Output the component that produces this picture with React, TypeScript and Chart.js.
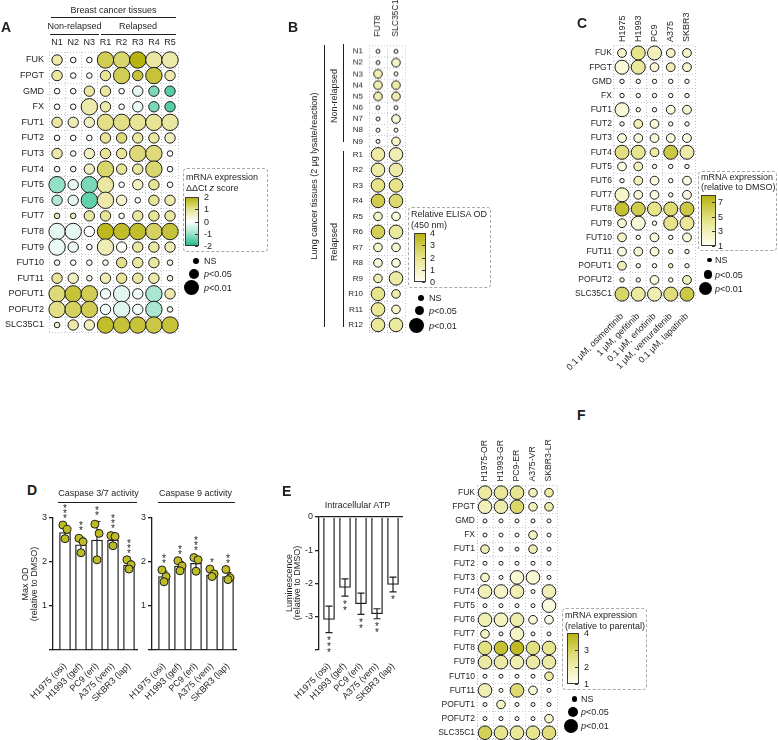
import React, { useEffect, useRef } from 'react';
import { Chart, registerables } from 'chart.js';

Chart.register(...registerables);

const FONT = "'Liberation Sans', Arial, Helvetica, sans-serif";
const INK = '#1e1e1e';
const GRID = '#c3c6d2';
const DOT = 'rgb(190,188,36)';
Chart.defaults.font.family = FONT;
Chart.defaults.color = INK;

// ---------------- Panel A: breast cancer tissues ----------------
const aRows = ['FUK', 'FPGT', 'GMD', 'FX', 'FUT1', 'FUT2', 'FUT3', 'FUT4', 'FUT5', 'FUT6', 'FUT7', 'FUT8', 'FUT9', 'FUT10', 'FUT11', 'POFUT1', 'POFUT2', 'SLC35C1'];
const aCols = ['N1', 'N2', 'N3', 'R1', 'R2', 'R3', 'R4', 'R5'];
const aZ = [
  [0.8, 0.1, 0.1, 1.5, 1.3, 2.0, 0.9, 0.8],
  [0.9, 0.1, 0.1, 1.0, 1.5, 1.7, 1.7, 0.8],
  [0.0, 0.0, 0.9, 0.9, 0.0, -0.3, -1.3, -1.6],
  [0.0, 0.0, 0.8, 0.8, 0.0, -0.2, -1.3, -1.6],
  [0.9, 0.7, 0.6, 1.1, 1.1, 1.0, 1.0, 0.9],
  [0.0, 0.0, 0.0, 1.0, 1.2, 0.9, 0.9, 0.6],
  [0.8, 0.1, 0.6, 1.0, 1.0, 1.2, 1.2, 0.1],
  [0.0, 0.0, 0.6, 1.3, 1.0, 0.9, 1.3, 0.0],
  [-1.1, -0.3, -1.3, 0.9, 0.0, 0.6, 1.0, 0.0],
  [-0.8, -0.3, -1.5, 0.8, 0.5, 0.0, 1.0, 0.8],
  [0.7, 0.6, 0.9, 1.0, 0.2, 0.9, 1.0, 0.9],
  [-0.25, -0.25, 0.0, 1.9, 1.8, 1.8, 1.4, 1.7],
  [-0.2, -0.2, 0.0, 0.7, 0.1, 0.9, 0.9, 0.7],
  [0.1, 0.1, 0.1, 0.2, 1.1, 0.9, 0.9, 0.3],
  [1.0, 0.6, 0.2, 0.7, 1.0, 0.9, 0.8, 0.3],
  [1.2, 1.7, 1.5, -0.15, -0.3, -0.15, -0.9, 0.8],
  [1.1, 1.4, 1.5, -0.15, -0.35, -0.15, -0.9, 0.2],
  [0.5, 0.8, 0.6, 1.8, 1.7, 1.7, 1.6, 1.7],
];
// significance level: 1 = NS, 2 = p<0.05, 3 = p<0.01
const aSig = [
  [2, 1, 1, 3, 3, 3, 3, 3],
  [2, 1, 1, 2, 3, 2, 3, 2],
  [1, 1, 2, 2, 1, 2, 2, 2],
  [1, 1, 3, 2, 1, 2, 2, 2],
  [2, 2, 2, 3, 3, 3, 3, 3],
  [1, 1, 1, 2, 2, 2, 2, 2],
  [2, 1, 2, 2, 2, 3, 3, 1],
  [1, 1, 2, 3, 2, 2, 3, 1],
  [3, 2, 3, 3, 1, 2, 2, 1],
  [2, 2, 3, 3, 2, 1, 2, 2],
  [1, 1, 2, 2, 1, 2, 2, 2],
  [3, 3, 2, 3, 3, 3, 3, 3],
  [3, 2, 1, 3, 2, 2, 2, 2],
  [1, 1, 1, 1, 2, 2, 2, 1],
  [2, 2, 1, 2, 2, 2, 2, 1],
  [3, 3, 3, 2, 3, 2, 3, 2],
  [3, 3, 3, 2, 3, 2, 3, 1],
  [1, 2, 2, 3, 3, 3, 3, 3],
];

// ---------------- Panel B: lung cancer tissues ELISA ----------------
const bCols = ['FUT8', 'SLC35C1'];
const bRowsN = ['N1', 'N2', 'N3', 'N4', 'N5', 'N6', 'N7', 'N8', 'N9'];
const bValN = [[0.2, 0.2], [0.2, 0.8], [1.2, 0.3], [1.3, 1.4], [1.3, 1.3], [0.2, 0.2], [0.2, 0.6], [0.2, 0.3], [0.2, 0.8]];
const bSigN = [[1, 1], [1, 2], [2, 1], [2, 2], [2, 2], [1, 1], [1, 2], [1, 1], [1, 2]];
const bRowsR = ['R1', 'R2', 'R3', 'R4', 'R5', 'R6', 'R7', 'R8', 'R9', 'R10', 'R11', 'R12'];
const bValR = [[1.5, 1.2], [1.5, 1.4], [2.0, 2.0], [3.0, 2.4], [0.8, 0.5], [2.8, 1.6], [0.8, 0.7], [0.4, 0.4], [1.2, 1.5], [2.0, 1.3], [1.7, 0.8], [1.7, 1.6]];
const bSigR = [[3, 3], [3, 3], [3, 3], [3, 3], [2, 2], [3, 3], [2, 2], [2, 2], [2, 3], [3, 2], [3, 2], [3, 3]];

// ---------------- Panel C: cell lines + TKIs ----------------
const cRows = aRows;
const cCols = ['H1975', 'H1993', 'PC9', 'A375', 'SKBR3'];
const cDrugs = ['0.1 μM, osimertinib', '1 μM, gefitinib', '0.1 μM, erlotinib', '1 μM, vemurafenib', '0.1 μM, lapatinib'];
const cVal = [
  [2.3, 4.5, 2.8, 2.5, 2.3],
  [1.8, 4.0, 2.0, 3.0, 2.2],
  [1.1, 1.1, 1.1, 1.1, 1.1],
  [1.1, 1.1, 1.1, 1.1, 1.1],
  [1.8, 1.1, 1.1, 1.6, 2.0],
  [1.1, 3.0, 1.8, 1.1, 1.1],
  [1.5, 1.7, 1.8, 1.5, 1.5],
  [4.8, 4.3, 3.5, 6.5, 3.5],
  [1.4, 2.8, 1.1, 1.1, 1.1],
  [1.1, 2.8, 1.8, 1.1, 1.5],
  [2.3, 2.0, 1.5, 1.1, 1.3],
  [7.0, 6.2, 4.5, 5.2, 6.5],
  [2.0, 1.8, 1.1, 4.5, 4.0],
  [2.5, 1.1, 1.8, 1.1, 1.7],
  [1.5, 2.0, 2.0, 2.5, 1.5],
  [3.0, 1.1, 1.1, 2.5, 1.5],
  [2.0, 1.1, 1.7, 1.1, 3.0],
  [5.5, 3.8, 3.2, 5.0, 6.5],
];
const cSig = [
  [2, 3, 3, 2, 2],
  [3, 3, 2, 2, 2],
  [1, 1, 1, 1, 1],
  [1, 1, 1, 1, 1],
  [3, 1, 1, 2, 2],
  [1, 2, 2, 1, 1],
  [2, 2, 2, 2, 2],
  [3, 3, 2, 3, 3],
  [2, 2, 1, 1, 1],
  [1, 2, 2, 1, 2],
  [3, 2, 2, 1, 2],
  [3, 3, 3, 3, 3],
  [2, 3, 1, 3, 3],
  [2, 1, 2, 1, 2],
  [2, 2, 2, 1, 1],
  [2, 1, 1, 1, 1],
  [1, 1, 2, 1, 2],
  [3, 3, 3, 3, 3],
];

// ---------------- Panel F: resistant lines ----------------
const fRows = aRows;
const fCols = ['H1975-OR', 'H1993-GR', 'PC9-ER', 'A375-VR', 'SKBR3-LR'];
const fVal = [
  [2.1, 2.3, 2.4, 1.8, 2.1],
  [1.8, 2.0, 2.9, 1.8, 2.1],
  [1.05, 1.05, 1.05, 1.05, 1.05],
  [1.05, 1.05, 1.05, 1.7, 1.05],
  [1.9, 1.05, 1.05, 1.9, 1.05],
  [1.05, 1.05, 1.05, 1.05, 1.05],
  [1.6, 1.05, 1.4, 1.4, 1.05],
  [1.8, 1.6, 1.9, 1.05, 1.8],
  [1.05, 1.05, 1.05, 1.05, 1.3],
  [1.9, 1.7, 2.0, 1.3, 1.05],
  [1.6, 1.05, 1.6, 1.05, 1.05],
  [2.6, 3.6, 3.8, 2.6, 2.4],
  [2.1, 2.1, 1.9, 2.1, 2.1],
  [1.05, 1.05, 1.05, 1.05, 2.1],
  [1.9, 1.05, 2.8, 1.4, 1.05],
  [1.05, 1.7, 1.05, 1.05, 1.05],
  [1.05, 1.05, 1.05, 1.05, 1.6],
  [3.1, 2.4, 2.3, 2.4, 2.7],
];
const fSig = [
  [3, 3, 3, 2, 2],
  [3, 3, 3, 2, 2],
  [1, 1, 1, 1, 1],
  [1, 1, 1, 2, 1],
  [2, 1, 1, 2, 1],
  [1, 1, 1, 1, 1],
  [2, 1, 3, 3, 1],
  [3, 3, 3, 1, 3],
  [1, 1, 1, 1, 3],
  [3, 3, 3, 2, 2],
  [2, 1, 3, 1, 1],
  [3, 3, 3, 3, 3],
  [3, 3, 3, 3, 3],
  [1, 1, 1, 1, 2],
  [3, 1, 3, 2, 1],
  [1, 2, 1, 1, 1],
  [1, 1, 1, 1, 2],
  [3, 3, 3, 3, 3],
];

// ---------------- Panel D / E ----------------
const dGroups = ['H1975 (osi)', 'H1993 (gef)', 'PC9 (erl)', 'A375 (vem)', 'SKBR3 (lap)'];
const casp37Mean = [2.67, 2.39, 2.50, 2.50, 1.93];
const casp37Sd = [0.14, 0.17, 0.42, 0.12, 0.09];
const casp37Dots = [[2.84, 2.74, 2.53], [2.54, 2.46, 2.21], [2.86, 2.65, 2.05], [2.60, 2.58, 2.37], [2.05, 1.94, 1.84]];
const casp37Stars = [3, 2, 2, 3, 3];
const casp9Mean = [1.67, 1.91, 1.97, 1.71, 1.67];
const casp9Sd = [0.12, 0.10, 0.15, 0.07, 0.09];
const casp9Dots = [[1.82, 1.67, 1.55], [2.03, 1.91, 1.80], [2.10, 2.05, 1.79], [1.84, 1.73, 1.67], [1.83, 1.64, 1.60]];
const casp9Stars = [2, 2, 3, 1, 2];
const atpMean = [-3.08, -2.12, -2.61, -2.91, -2.03];
const atpSd = [0.40, 0.26, 0.32, 0.15, 0.22];
const atpStars = [3, 2, 2, 2, 1];

// ---------------- helpers ----------------
type RGB = number[];
const css = (c: RGB) => `rgb(${c.map((v) => Math.round(v)).join(',')})`;
function ramp(stops: [number, RGB][]) {
  return (v: number) => {
    if (v <= stops[0][0]) return css(stops[0][1]);
    for (let i = 1; i < stops.length; i++) {
      const [v1, c1] = stops[i];
      const [v0, c0] = stops[i - 1];
      if (v <= v1) {
        const t = (v - v0) / (v1 - v0);
        return css(c0.map((c, k) => c + t * (c1[k] - c)));
      }
    }
    return css(stops[stops.length - 1][1]);
  };
}
function gradientCss(stops: [number, RGB][]) {
  const mn = stops[0][0];
  const mx = stops[stops.length - 1][0];
  return `linear-gradient(to top, ${stops.map(([v, c]) => `${css(c)} ${(((v - mn) / (mx - mn)) * 100).toFixed(1)}%`).join(', ')})`;
}
const A_STOPS: [number, RGB][] = [[-2, [38, 188, 138]], [-1, [160, 228, 205]], [0, [255, 255, 255]], [1, [232, 228, 150]], [2, [183, 180, 18]]];
const B_STOPS: [number, RGB][] = [[0, [255, 255, 240]], [2, [230, 227, 138]], [4, [183, 180, 18]]];
const C_STOPS: [number, RGB][] = [[1, [255, 255, 240]], [4.5, [230, 227, 138]], [8, [183, 180, 18]]];
const F_STOPS: [number, RGB][] = [[1, [255, 255, 240]], [2.5, [230, 227, 138]], [4, [183, 180, 18]]];

const fix = (w?: number, h?: number) => (s: any) => {
  if (w !== undefined) s.width = w;
  if (h !== undefined) s.height = h;
  s.paddingLeft = 0;
  s.paddingRight = 0;
  s.paddingTop = 0;
  s.paddingBottom = 0;
};

type GridProps = {
  canvas: number[];
  area: number[];
  rows: string[];
  cols: string[];
  vals: number[][];
  sig: number[][];
  radii: number[];
  stops: [number, RGB][];
  rowFont: number;
  rowPad: number;
  showCols: boolean;
  colFont?: number;
  colRot?: number;
  colPad?: number;
  bottom?: string[];
  bottomPad?: number;
};

function BubbleGrid(p: GridProps) {
  const ref = useRef<HTMLCanvasElement>(null);
  const [cx, cy, cw, ch] = p.canvas;
  useEffect(() => {
    const [al, at, ar, ab] = p.area;
    const color = ramp(p.stops);
    const pts: any[] = [];
    p.rows.forEach((r, i) =>
      p.cols.forEach((c, j) => pts.push({ x: c, y: r, r: p.radii[p.sig[i][j] - 1], v: p.vals[i][j] }))
    );
    const grid = { color: GRID, lineWidth: 1, drawTicks: false, offset: true };
    const border = { display: false, dash: [1, 2] };
    const colFont = p.colFont ?? 9;
    // rotated top labels are shifted by one line height in Chart.js; compensate
    const colOffset = p.colRot ? colFont * 1.2 : 0;
    const scales: any = {
      x: {
        type: 'category', labels: p.cols, position: 'top', offset: true, grid, border,
        ticks: {
          display: p.showCols, autoSkip: false, maxRotation: p.colRot ?? 0, minRotation: p.colRot ?? 0,
          padding: p.colPad ?? 3, labelOffset: colOffset, color: INK, font: { family: FONT, size: colFont },
        },
        afterFit: fix(undefined, at - cy),
      },
      y: {
        type: 'category', labels: p.rows, offset: true, grid, border,
        ticks: { autoSkip: false, padding: p.rowPad, color: INK, font: { family: FONT, size: p.rowFont } },
        afterFit: fix(al - cx, undefined),
      },
    };
    if (p.bottom) {
      scales.x2 = {
        type: 'category', labels: p.bottom, position: 'bottom', offset: true,
        grid: { display: false }, border: { display: false },
        ticks: { autoSkip: false, maxRotation: 45, minRotation: 45, padding: p.bottomPad ?? 2, color: INK, font: { family: FONT, size: 9 } },
        afterFit: fix(undefined, cy + ch - ab),
      };
    }
    const chart = new Chart(ref.current as HTMLCanvasElement, {
      type: 'bubble',
      data: {
        datasets: [{
          data: pts, xAxisID: 'x', yAxisID: 'y',
          backgroundColor: (c: any) => color(c.raw ? c.raw.v : 0),
          borderColor: INK, borderWidth: 1, clip: false,
        }],
      },
      options: {
        responsive: false, animation: false, events: [],
        layout: { autoPadding: false, padding: { left: 0, top: 0, right: cx + cw - ar, bottom: p.bottom ? 0 : cy + ch - ab } },
        plugins: { legend: { display: false }, tooltip: { enabled: false } },
        scales,
      },
    } as any);
    return () => chart.destroy();
  }, []);
  return <canvas ref={ref} width={cw} height={ch} style={{ position: 'absolute', left: cx, top: cy, width: cw, height: ch }} />;
}

const JIT = [-0.13, 0.13, 0];

type BarProps = {
  canvas: number[];
  area: number[];
  names: string[];
  means: number[];
  sds: number[];
  dots?: number[][];
  stars: number[];
  yMin: number;
  yMax: number;
  hide: number;
  below?: boolean;
  xMin: number;
  xMax: number;
};

function BarPanel(p: BarProps) {
  const ref = useRef<HTMLCanvasElement>(null);
  const [cx, cy, cw, ch] = p.canvas;
  useEffect(() => {
    const [al, at, ar, ab] = p.area;
    const datasets: any[] = [{
      type: 'bar', data: p.means.map((m, i) => ({ x: i, y: m })),
      backgroundColor: '#ffffff', borderColor: INK, borderWidth: 1.3, barThickness: 11, order: 2, clip: false,
    }];
    if (p.dots) {
      datasets.push({
        type: 'scatter',
        data: p.dots.flatMap((arr, i) => arr.map((v, j) => ({ x: i + JIT[j], y: v }))),
        pointRadius: 4, backgroundColor: DOT, borderColor: INK, borderWidth: 1, order: 1, clip: false,
      });
    }
    const plugin = {
      id: 'errstars',
      afterDatasetDraw(chart: any, args: any) {
        if (args.index !== 0) return;
        const { ctx } = chart;
        const xs = chart.scales.x;
        const ys = chart.scales.y;
        ctx.save();
        ctx.strokeStyle = INK;
        ctx.lineWidth = 1.2;
        p.means.forEach((m, i) => {
          const px = xs.getPixelForValue(i);
          const y1 = ys.getPixelForValue(m - p.sds[i]);
          const y2 = ys.getPixelForValue(m + p.sds[i]);
          ctx.beginPath();
          ctx.moveTo(px, y1); ctx.lineTo(px, y2);
          ctx.moveTo(px - 3.5, y1); ctx.lineTo(px + 3.5, y1);
          ctx.moveTo(px - 3.5, y2); ctx.lineTo(px + 3.5, y2);
          ctx.stroke();
        });
        ctx.restore();
      },
      afterDraw(chart: any) {
        const { ctx } = chart;
        const xs = chart.scales.x;
        const ys = chart.scales.y;
        ctx.save();
        ctx.fillStyle = INK;
        ctx.font = `10px ${FONT}`;
        ctx.textAlign = 'center';
        ctx.textBaseline = 'alphabetic';
        p.stars.forEach((n, i) => {
          const px = xs.getPixelForValue(i);
          const m = p.means[i];
          for (let k = 0; k < n; k++) {
            let c;
            if (p.below) {
              c = ys.getPixelForValue(m - p.sds[i]) + 6 + k * 6;
            } else {
              const top = Math.max(m + p.sds[i], ...(p.dots ? p.dots[i] : []));
              c = ys.getPixelForValue(top) - 4 - 4.5 - k * 5;
            }
            ctx.fillText('*', px, c + 5.6);
          }
        });
        ctx.restore();
      },
    };
    const chart = new Chart(ref.current as HTMLCanvasElement, {
      type: 'bar',
      data: { datasets },
      options: {
        responsive: false, animation: false, events: [],
        layout: { autoPadding: false, padding: { left: 0, top: at - cy, right: cx + cw - ar, bottom: 0 } },
        plugins: { legend: { display: false }, tooltip: { enabled: false } },
        scales: {
          x: {
            type: 'linear', min: p.xMin, max: p.xMax, offset: false, position: 'bottom',
            grid: { display: false },
            border: { display: !p.below, color: INK, width: 1.3 },
            ticks: {
              autoSkip: false, maxRotation: 45, minRotation: 45, padding: 3, color: INK, font: { family: FONT, size: 9 },
              callback: (_v: any, i: number) => p.names[i],
            },
            afterBuildTicks: (s: any) => { s.ticks = p.names.map((_n, i) => ({ value: i })); },
            afterFit: fix(undefined, cy + ch - ab),
          },
          y: {
            type: 'linear', min: p.yMin, max: p.yMax, position: 'left',
            grid: {
              drawOnChartArea: !!p.below, drawTicks: true, tickLength: 4, lineWidth: 1.3, tickColor: INK,
              color: (c: any) => (p.below ? (c.tick && c.tick.value === 0 ? INK : 'rgba(0,0,0,0)') : INK),
            },
            border: { display: true, color: INK, width: 1.3 },
            ticks: {
              stepSize: 1, padding: 2, color: INK, font: { family: FONT, size: 9 },
              callback: (v: any) => (v === p.hide ? '' : String(v)),
            },
            afterFit: fix(al - cx, undefined),
          },
        },
      },
      plugins: [plugin],
    } as any);
    return () => chart.destroy();
  }, []);
  return <canvas ref={ref} width={cw} height={ch} style={{ position: 'absolute', left: cx, top: cy, width: cw, height: ch }} />;
}

// ---------------- HTML text helpers ----------------
function Tx({ x, y, s = 9, b = false, rot = 0, a = 'c', children }: any) {
  const tx = a === 'c' ? '-50%' : a === 'r' ? '-100%' : '0';
  return (
    <div
      style={{
        position: 'absolute', left: x, top: y,
        transform: `translate(${tx},-50%)` + (rot ? ` rotate(${rot}deg)` : ''),
        fontFamily: FONT, fontSize: s, fontWeight: b ? 700 : 400, color: INK,
        whiteSpace: 'nowrap', lineHeight: 1,
      }}
    >
      {children}
    </div>
  );
}
const HL = ({ x1, x2, y }: any) => (
  <div style={{ position: 'absolute', left: x1, top: y, width: x2 - x1, height: 0, borderTop: `1px solid ${INK}` }} />
);
const VL = ({ x, y1, y2 }: any) => (
  <div style={{ position: 'absolute', left: x, top: y1, width: 0, height: y2 - y1, borderLeft: `1px solid ${INK}` }} />
);

function ColorLegend({ box, title, titleYs, bar, stops, ticks, labelX }: any) {
  const [l, t, r, b] = box;
  const [bl, bt, bw, bh] = bar;
  const mn = stops[0][0];
  const mx = stops[stops.length - 1][0];
  const yOf = (v: number) => bt + ((mx - v) / (mx - mn)) * bh;
  return (
    <>
      <div style={{ position: 'absolute', left: l, top: t, width: r - l, height: b - t, border: '1px dashed #a9a9a9', borderRadius: 4, boxSizing: 'border-box' }} />
      {title.map((line: any, i: number) => (
        <Tx key={i} x={l + 3} y={titleYs[i]} a="l">{line}</Tx>
      ))}
      <div style={{ position: 'absolute', left: bl, top: bt, width: bw, height: bh, background: gradientCss(stops), border: '1px solid #3a3a3a', boxSizing: 'border-box' }} />
      {ticks.map((v: number) => (
        <React.Fragment key={v}>
          <div style={{ position: 'absolute', left: bl + bw - 4, top: yOf(v), width: 3, height: 0, borderTop: '1px solid #3a3a3a' }} />
          <Tx x={labelX} y={yOf(v)} a="l">{String(v)}</Tx>
        </React.Fragment>
      ))}
    </>
  );
}

function SizeLegend({ right, ys, radii, textX }: any) {
  const labels = [<>NS</>, <><i>p</i>&lt;0.05</>, <><i>p</i>&lt;0.01</>];
  return (
    <>
      {ys.map((y: number, i: number) => (
        <React.Fragment key={i}>
          <div style={{ position: 'absolute', left: right - 2 * radii[i], top: y - radii[i], width: 2 * radii[i], height: 2 * radii[i], borderRadius: '50%', background: '#000' }} />
          <Tx x={textX} y={y} a="l">{labels[i]}</Tx>
        </React.Fragment>
      ))}
    </>
  );
}

export default function App() {
  return (
    <div style={{ position: 'absolute', left: 0, top: 0, width: 778, height: 740, overflow: 'hidden', background: '#fff', fontFamily: FONT }}>
      {/* A */}
      <BubbleGrid canvas={[0, 30, 192, 305]} area={[49, 52.2, 178.1, 332.8]} rows={aRows} cols={aCols} vals={aZ} sig={aSig}
        radii={[2.8, 5.2, 8.2]} stops={A_STOPS} rowFont={9} rowPad={5} showCols colFont={9} colPad={4} />
      {/* B */}
      <BubbleGrid canvas={[330, 0, 85, 146.65]} area={[369, 45.4, 405, 146.65]} rows={bRowsN} cols={bCols} vals={bValN} sig={bSigN}
        radii={[2.0, 4.3, 6.8]} stops={B_STOPS} rowFont={8} rowPad={6} showCols colFont={8.5} colRot={90} colPad={9} />
      <BubbleGrid canvas={[330, 140, 85, 195]} area={[369, 146.65, 405, 332.65]} rows={bRowsR} cols={bCols} vals={bValR} sig={bSigR}
        radii={[2.0, 4.3, 6.8]} stops={B_STOPS} rowFont={8} rowPad={6} showCols={false} />
      {/* C */}
      <BubbleGrid canvas={[530, 0, 180, 400]} area={[613.9, 45.9, 695.1, 301.2]} rows={cRows} cols={cCols} vals={cVal} sig={cSig}
        radii={[2.2, 4.4, 7.0]} stops={C_STOPS} rowFont={8.5} rowPad={2} showCols colFont={9} colRot={90} colPad={4} bottom={cDrugs} bottomPad={2} />
      {/* F */}
      <BubbleGrid canvas={[400, 400, 170, 340]} area={[477, 485.6, 557, 739.8]} rows={fRows} cols={fCols} vals={fVal} sig={fSig}
        radii={[2.0, 4.3, 6.8]} stops={F_STOPS} rowFont={8.5} rowPad={2} showCols colFont={8.7} colRot={90} colPad={4} />
      {/* D */}
      <BarPanel canvas={[0, 500, 150, 240]} area={[53, 518, 137, 650]} names={dGroups} means={casp37Mean} sds={casp37Sd}
        dots={casp37Dots} stars={casp37Stars} yMin={0} yMax={3} hide={0} xMin={-0.75} xMax={4.5} />
      <BarPanel canvas={[100, 500, 150, 240]} area={[152, 518, 236, 650]} names={dGroups} means={casp9Mean} sds={casp9Sd}
        dots={casp9Dots} stars={casp9Stars} yMin={0} yMax={3} hide={0} xMin={-0.75} xMax={4.5} />
      {/* E */}
      <BarPanel canvas={[265, 500, 150, 240]} area={[319, 517, 403, 650]} names={dGroups} means={atpMean} sds={atpSd}
        stars={atpStars} yMin={-4} yMax={0} hide={-4} below xMin={-0.625} xMax={4.625} />

      {/* ---- Panel letters ---- */}
      <Tx x={1} y={27} s={14} b a="l">A</Tx>
      <Tx x={288} y={27} s={14} b a="l">B</Tx>
      <Tx x={577} y={23} s={14} b a="l">C</Tx>
      <Tx x={27} y={490} s={14} b a="l">D</Tx>
      <Tx x={282} y={491} s={14} b a="l">E</Tx>
      <Tx x={577} y={415} s={14} b a="l">F</Tx>

      {/* ---- A annotations ---- */}
      <Tx x={113.5} y={10}>Breast cancer tissues</Tx>
      <HL x1={51} x2={176} y={17} />
      <Tx x={74.5} y={25.5}>Non-relapsed</Tx>
      <Tx x={138} y={25.5}>Relapsed</Tx>
      <HL x1={49.5} x2={98.5} y={33.5} />
      <HL x1={100.5} x2={176} y={33.5} />
      <ColorLegend box={[183, 168, 268, 252]} title={['mRNA expression', <>ΔΔCt <i>z</i> score</>]} titleYs={[177, 187.5]}
        bar={[185, 197, 14, 49]} stops={A_STOPS} ticks={[2, 1, 0, -1, -2]} labelX={204} />
      <SizeLegend right={198.5} ys={[261, 273.5, 287.5]} radii={[3, 5, 7.5]} textX={204} />

      {/* ---- B annotations ---- */}
      <Tx x={313.5} y={176} rot={-90}>Lung cancer tissues (2 μg lysate/reaction)</Tx>
      <VL x={323.5} y1={45} y2={327} />
      <Tx x={333.5} y={96} rot={-90}>Non-relapsed</Tx>
      <VL x={342.5} y1={44} y2={142} />
      <Tx x={333.5} y={242} rot={-90}>Relapsed</Tx>
      <VL x={342.5} y1={151} y2={327} />
      <ColorLegend box={[408, 207, 491, 288]} title={['Relative ELISA OD', '(450 nm)']} titleYs={[213.5, 225]}
        bar={[414, 233, 12, 49]} stops={B_STOPS} ticks={[4, 3, 2, 1, 0]} labelX={430} />
      <SizeLegend right={424} ys={[297.5, 310.5, 325.5]} radii={[3, 4.7, 7.5]} textX={429} />

      {/* ---- C annotations ---- */}
      <ColorLegend box={[698, 171, 777, 251]} title={['mRNA expression', '(relative to DMSO)']} titleYs={[176.5, 186.5]}
        bar={[701, 195, 15, 51]} stops={C_STOPS} ticks={[7, 5, 3, 1]} labelX={718} />
      <SizeLegend right={712} ys={[260, 274.5, 288.5]} radii={[2.4, 4.2, 6.5]} textX={715} />

      {/* ---- D annotations ---- */}
      <Tx x={98.5} y={493}>Caspase 3/7 activity</Tx>
      <HL x1={58} x2={137} y={501.5} />
      <Tx x={195.5} y={493}>Caspase 9 activity</Tx>
      <HL x1={158} x2={235} y={501.5} />
      <Tx x={25} y={584} rot={-90}>Max OD</Tx>
      <Tx x={33.5} y={584} rot={-90}>(relative to DMSO)</Tx>

      {/* ---- E annotations ---- */}
      <Tx x={357.5} y={505}>Intracellular ATP</Tx>
      <Tx x={288.5} y={583} rot={-90}>Luminescence</Tx>
      <Tx x={297} y={583} rot={-90}>(relative to DMSO)</Tx>

      {/* ---- F annotations ---- */}
      <ColorLegend box={[562, 608, 647, 690]} title={['mRNA expression', '(relative to parental)']} titleYs={[614.5, 626]}
        bar={[567, 633, 12, 51]} stops={F_STOPS} ticks={[4, 3, 2, 1]} labelX={584} />
      <SizeLegend right={577.5} ys={[699, 711.5, 726]} radii={[2.8, 5, 7]} textX={581} />
    </div>
  );
}
